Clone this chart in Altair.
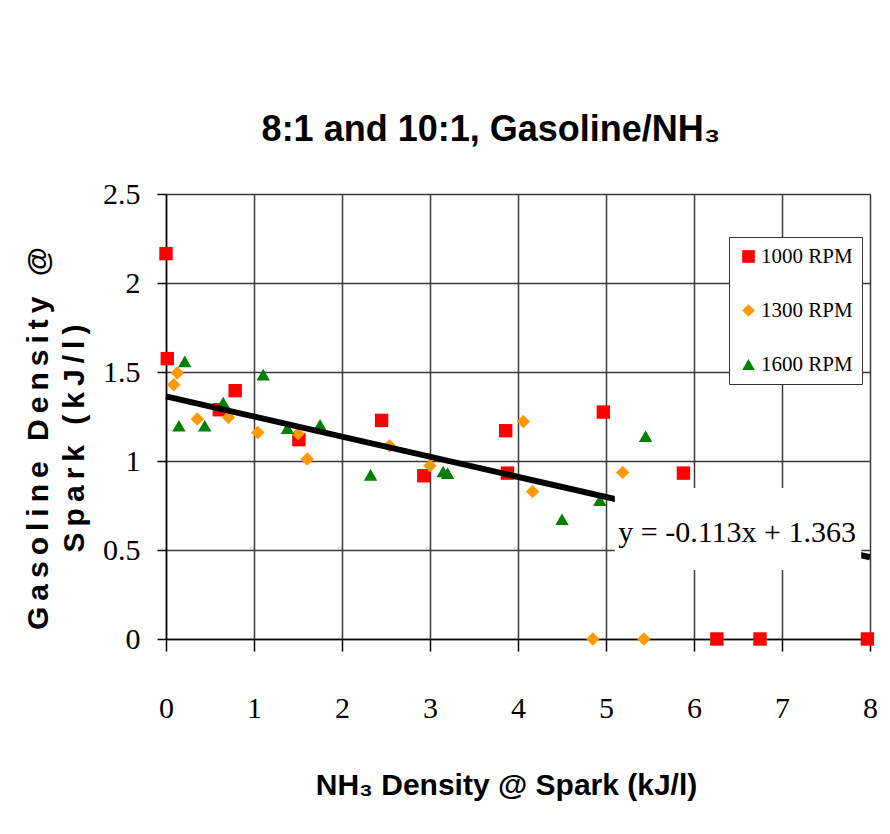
import altair as alt
import pandas as pd

# ---------------- data ----------------
series_names = ["1000 RPM", "1300 RPM", "1600 RPM"]
series_colors = ["#FF0000", "#FF9900", "#008000"]
series_shapes = ["square", "diamond", "triangle-up"]

rpm1000_x = [0.0, 0.015, 0.606, 0.786, 1.51, 2.45, 2.93, 3.86, 3.88, 4.97, 5.88, 6.26, 6.75, 7.97]
rpm1000_y = [2.165, 1.575, 1.288, 1.395, 1.12, 1.228, 0.917, 1.17, 0.932, 1.275, 0.932, 0.0, 0.0, 0.0]

rpm1300_x = [0.088, 0.128, 0.356, 0.709, 1.043, 1.50, 1.605, 2.54, 3.0, 4.06, 4.165, 4.85, 5.19, 5.43]
rpm1300_y = [1.428, 1.494, 1.236, 1.245, 1.16, 1.153, 1.011, 1.085, 0.973, 1.222, 0.828, 0.0, 0.936, 0.0]

rpm1600_x = [0.147, 0.213, 0.44, 0.65, 1.105, 1.38, 1.75, 2.325, 3.15, 3.2, 4.5, 4.93, 5.45]
rpm1600_y = [1.198, 1.56, 1.198, 1.329, 1.485, 1.185, 1.204, 0.922, 0.941, 0.932, 0.673, 0.78, 1.14]

trend_slope = -0.113
trend_intercept = 1.363
trend_x = [0.0, 8.0]

eq_text = "y = -0.113x + 1.363"
eq_box_x = [5.1, 7.9]
eq_box_y = [0.388, 0.849]
eq_pos = [6.49, 0.546]

x_ticks = [0, 1, 2, 3, 4, 5, 6, 7, 8]
y_ticks = [0, 0.5, 1, 1.5, 2, 2.5]

# ---------------- tables ----------------
rows = []
for name, xs, ys in zip(series_names, [rpm1000_x, rpm1300_x, rpm1600_x],
                        [rpm1000_y, rpm1300_y, rpm1600_y]):
    for xv, yv in zip(xs, ys):
        rows.append({"series": name, "nh3": xv, "gas": yv})
df = pd.DataFrame(rows)

trend_df = pd.DataFrame({"nh3": trend_x,
                         "gas": [trend_intercept + trend_slope * v for v in trend_x]})
box_df = pd.DataFrame({"nh3": [eq_box_x[0]], "x2": [eq_box_x[1]],
                       "gas": [eq_box_y[0]], "y2": [eq_box_y[1]]})
eq_df = pd.DataFrame({"nh3": [eq_pos[0]], "gas": [eq_pos[1]], "t": [eq_text]})


def spaced(s, trail=0, lead=0):
    out = "\u2009".join("\u00a0" if c == " " else c for c in s)
    return "\u00a0" * lead + out + "\u00a0" * trail


x_scale = alt.Scale(domain=[0, 8], nice=False, zero=False)
y_scale = alt.Scale(domain=[0, 2.5], nice=False, zero=False)

x_axis = alt.Axis(
    values=x_ticks, format="d", grid=True,
    gridColor="#3a3a3a", gridWidth=1.5,
    domainColor="#000000", domainWidth=1.5,
    tickColor="#000000", tickWidth=1.5, tickSize=12,
    labelFont="Liberation Serif", labelFontSize=30, labelColor="#000000",
    labelBaseline="alphabetic", labelPadding=66, labelFlush=False,
    title="NH\u2083 Density @ Spark (kJ/l)",
    titleFont="Liberation Sans", titleFontSize=30, titleFontWeight="bold",
    titleColor="#000000", titleX=340, titleY=155, titleBaseline="alphabetic",
    titleAlign="center",
)
y_axis = alt.Axis(
    values=y_ticks, format="~g", grid=True,
    gridColor="#3a3a3a", gridWidth=1.5,
    domainColor="#000000", domainWidth=1.5,
    tickColor="#000000", tickWidth=1.5, tickSize=9,
    labelFont="Liberation Serif", labelFontSize=30, labelColor="#000000",
    labelPadding=17, labelFlush=False,
    title=[spaced("Gasoline Density @", trail=3), spaced("Spark (kJ/l)", lead=3)],
    titleFont="Liberation Sans", titleFontSize=30, titleFontWeight="bold",
    titleColor="#000000", titleAngle=270, titleBaseline="top",
    titleAlign="center", titleX=-143, titleY=244, titleLineHeight=36,
)

X = alt.X("nh3:Q", scale=x_scale, axis=x_axis)
Y = alt.Y("gas:Q", scale=y_scale, axis=y_axis)

points = alt.Chart(df).mark_point(filled=True, opacity=1, size=180, strokeWidth=0).encode(
    x=X,
    y=Y,
    color=alt.Color("series:N",
                    scale=alt.Scale(domain=series_names, range=series_colors),
                    legend=alt.Legend(
                        title=None, orient="none", legendX=563, legendY=43,
                        fillColor="#FFFFFF", strokeColor="#333333",
                        padding=9, rowPadding=32,
                        labelFont="Liberation Serif", labelFontSize=21,
                        labelColor="#000000", labelOffset=2,
                        symbolSize=160, symbolStrokeWidth=0, symbolOpacity=1,
                    )),
    shape=alt.Shape("series:N",
                    scale=alt.Scale(domain=series_names, range=series_shapes)),
)

trend = alt.Chart(trend_df).mark_line(color="#000000", strokeWidth=6).encode(
    x=X, y=Y,
)

box = alt.Chart(box_df).mark_rect(fill="#FFFFFF").encode(
    x=X, x2="x2:Q", y=Y, y2="y2:Q",
)

eq = alt.Chart(eq_df).mark_text(
    font="Liberation Serif", fontSize=30, color="#000000",
    align="center", baseline="alphabetic",
).encode(
    x=X, y=Y, text="t:N",
)

chart = alt.layer(points, trend, box, eq).properties(
    width=704, height=445,
    title=alt.TitleParams(
        "8:1 and 10:1, Gasoline/NH\u2083",
        font="Liberation Sans", fontSize=36, fontWeight="bold", color="#000000",
        anchor="middle", dx=-27, dy=17, offset=19, baseline="alphabetic",
    ),
    autosize=alt.AutoSizeParams(type="none"),
    padding={"left": 158, "top": 186, "right": 10, "bottom": 180},
    background="#FFFFFF",
).configure_view(stroke=None)

chart.save("out.html", embed_options={"renderer": "svg", "actions": False})
